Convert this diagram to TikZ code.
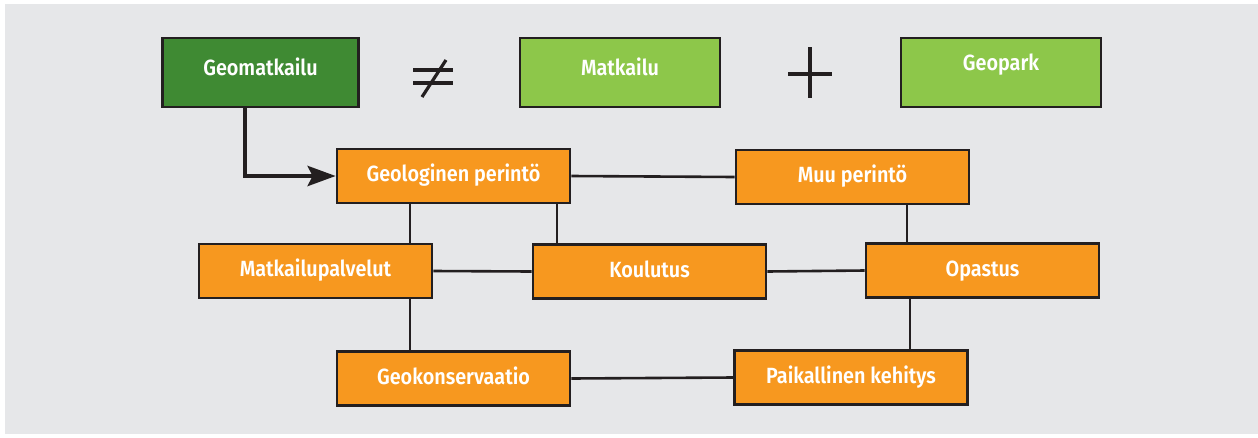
\documentclass[tikz,border=0pt]{standalone}
\usepackage{fontspec}
\setmainfont{Fira Sans}[FakeStretch=0.9, BoldFont={* SemiBold}]
\usetikzlibrary{arrows.meta}
\definecolor{bggray}{HTML}{E6E7E9}
\definecolor{darkgreen}{HTML}{3F8A33}
\definecolor{lightgreen}{HTML}{8DC74A}
\definecolor{boxorange}{HTML}{F7981F}
\definecolor{ink}{HTML}{231F20}
\tikzset{
  labeltext/.style={inner sep=0pt, text=white,
    font=\fontsize{22}{25}\selectfont\bfseries},
  box/.style={labeltext, draw=ink, line width=2.6pt},
  topbox/.style={box, minimum width=200pt, minimum height=69pt},
  toplabel/.style={labeltext, anchor=base},
  orangebox/.style={box, fill=boxorange, minimum width=233pt, minimum height=54pt,
    text height=15pt, text depth=4pt},
  link/.style={draw=ink, line width=2.6pt},
  symbol/.style={draw=ink, line width=3.2pt},
}
\begin{document}
\begin{tikzpicture}[x=1pt,y=-1pt]
  \useasboundingbox (0,0) rectangle (1258,437);
  \fill[bggray] (5,4) rectangle (1258,434);

  % top row
  \node[topbox, fill=darkgreen, minimum width=196pt] (geo) at (260.5,72.5) {};
  \node[toplabel] (geolabel) at (260.5,75) {Geomatkailu};
  \node[topbox, fill=lightgreen] (matk) at (620,72.5) {};
  \node[toplabel] (matklabel) at (620,75) {Matkailu};
  \node[topbox, fill=lightgreen] (park) at (1001,72.5) {};
  \node[toplabel] (parklabel) at (1001,70) {Geopark};

  % not-equal and plus signs
  \draw[symbol] (413,70) -- (453,70);
  \draw[symbol] (413,83) -- (453,83);
  \draw[symbol] (422,97) -- (446,60);
  \draw[symbol] (810,47) -- (810,98);
  \draw[symbol] (788,74) -- (832,74);

  % network of themes
  \node[orangebox] (gp)  at (453.5,176)   {Geologinen perintö};
  \node[orangebox] (muu) at (852.5,177)   {Muu perintö};
  \node[orangebox] (mp)  at (315.5,271)   {Matkailupalvelut};
  \node[orangebox] (kou) at (649.5,271.5) {Koulutus};
  \node[orangebox] (opa) at (982.5,270.5) {Opastus};
  \node[orangebox] (gk)  at (453.5,378.5) {Geokonservaatio};
  \node[orangebox] (pk)  at (851,377.5)   {Paikallinen kehitys};

  % connections
  \draw[link] (gp.east) -- (muu.west);
  \draw[link] ([xshift=-43.5pt]gp.south) -- ([xshift=-43.5pt]gp.south |- mp.north);
  \draw[link] ([xshift=103.5pt]gp.south) -- ([xshift=103.5pt]gp.south |- kou.north);
  \draw[link] (mp.east) -- (kou.west);
  \draw[link] (kou.east) -- (opa.west);
  \draw[link] ([xshift=54.5pt]muu.south) -- ([xshift=54.5pt]muu.south |- opa.north);
  \draw[link] ([xshift=94.5pt]mp.south) -- ([xshift=94.5pt]mp.south |- gk.north);
  \draw[link] ([xshift=-72.5pt]opa.south) -- ([xshift=-72.5pt]opa.south |- pk.north);
  \draw[link] (gk.east) -- (pk.west);

  % arrow from Geomatkailu
  \draw[draw=ink, line width=4.6pt, -{Stealth[length=28pt,width=20pt,inset=5pt]}]
    ([xshift=-15.5pt]geo.south) |- (gp.west);
\end{tikzpicture}
\end{document}
